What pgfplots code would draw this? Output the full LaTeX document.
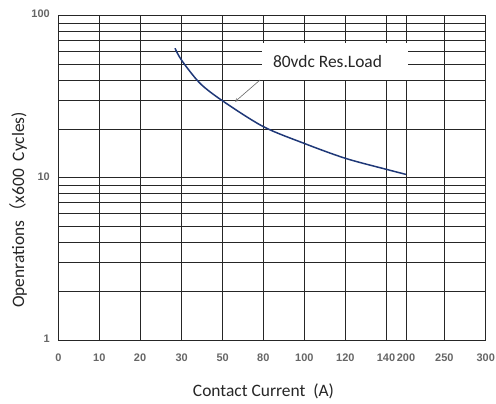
\documentclass[border=0pt]{standalone}
\usepackage{pgfplots}
\pgfplotsset{compat=1.18}
\usepackage{fontspec}
\setmainfont{Carlito}
\newfontfamily\arialf{Liberation Sans}
\newfontfamily\cjk{Noto Sans CJK SC}
\definecolor{curve}{RGB}{31,56,120}
\begin{document}
\begin{tikzpicture}[x=1bp,y=1bp]
\useasboundingbox (0,0) rectangle (496,403);
\begin{axis}[at={(58.3bp,63bp)}, anchor=south west, scale only axis,
 width=427.4bp, height=324.3bp,
 ymode=log, ymin=1, ymax=100, xmin=0, xmax=427.4,
 xtick={0,41,81.7,123.4,164.4,205,246,287,327.7,347.7,386,427.4},
 xticklabels={0,10,20,30,50,80,100,120,140,200,250,300},
 ytick={1,10,100}, yticklabels={1,10,100},
 grid=both,
 major grid style={black!85, line width=1bp},
 minor grid style={black!85, line width=1bp},
 axis line style={black!85, line width=1bp},
 tick style={draw=none},
 ticklabel style={font=\arialf\bfseries\fontsize{11}{13}\selectfont, text=black!60},
 xticklabel style={anchor=center, yshift=-18bp},
 yticklabel style={anchor=east, xshift=-5bp, yshift=1.5bp},
 clip=false,
]
\addplot[curve, line width=1.5bp, smooth] coordinates {
(116.7,63) (123.4,53) (141.7,38.3) (164.4,29.8) (205,20.7) (246,16.3) (287,13.2) (327.7,11.3) (347.7,10.5)
};
\end{axis}
\fill[white] (261.7,323) rectangle (408,360);
\draw[black!60, line width=0.6bp, -stealth] (260,323) -- (235,301.3);
\node[font=\fontsize{17.5}{20}\selectfont, text=black!85] at (327.5,341) {80vdc Res.Load};
\node[font=\fontsize{17.5}{20}\selectfont, text=black!85] at (263.5,11.3) {Contact Current\ \ (A)};
\node[font=\fontsize{17.5}{20}\selectfont, text=black!85, rotate=90] at (18,193) {Openrations{\cjk （}x600\ \ Cycles)};
\end{tikzpicture}
\end{document}
